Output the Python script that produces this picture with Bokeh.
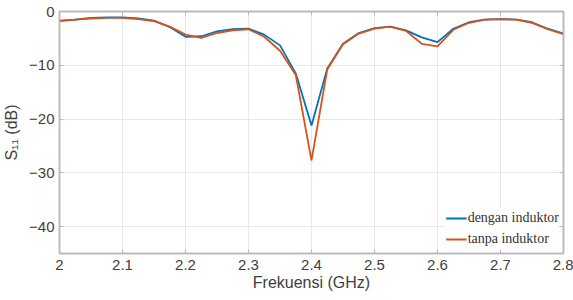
from bokeh.plotting import figure
from bokeh.models import Range1d, LinearAxis, FixedTicker, Legend, LegendItem, CustomJSTickFormatter
from bokeh.embed import file_html
from bokeh.resources import INLINE

freq = [2.000, 2.025, 2.050, 2.075, 2.100, 2.125, 2.150, 2.175, 2.200, 2.225, 2.250,
        2.275, 2.300, 2.325, 2.350, 2.375, 2.400, 2.425, 2.450, 2.475, 2.500, 2.525,
        2.550, 2.575, 2.600, 2.625, 2.650, 2.675, 2.700, 2.725, 2.750, 2.775, 2.800]
dengan = [-1.7, -1.5, -1.2, -1.1, -1.1, -1.3, -1.7, -2.9, -4.7, -4.6, -3.7,
          -3.3, -3.2, -4.3, -6.3, -11.5, -21.2, -10.6, -6.0, -4.0, -3.1, -2.8,
          -3.5, -4.8, -5.7, -3.2, -2.0, -1.5, -1.4, -1.5, -2.0, -3.2, -4.1]
tanpa = [-1.8, -1.5, -1.3, -1.2, -1.2, -1.4, -1.8, -2.8, -4.3, -4.9, -4.0,
         -3.5, -3.3, -4.7, -7.3, -11.8, -27.7, -10.8, -6.1, -4.1, -3.2, -2.8,
         -3.6, -6.0, -6.5, -3.4, -2.1, -1.5, -1.4, -1.5, -2.1, -3.3, -4.2]
x_ticks = [2.0, 2.1, 2.2, 2.3, 2.4, 2.5, 2.6, 2.7, 2.8]
x_labels = {2.0: "2", 2.1: "2.1", 2.2: "2.2", 2.3: "2.3", 2.4: "2.4",
            2.5: "2.5", 2.6: "2.6", 2.7: "2.7", 2.8: "2.8"}
y_ticks = [-40, -30, -20, -10, 0]

frame_col = "#b8b8b8"
text_col = "#404040"

p = figure(width=573, height=300, output_backend="svg", toolbar_location=None,
           x_range=Range1d(2.0, 2.8), y_range=Range1d(-45, 0),
           min_border_left=59, min_border_right=10, min_border_top=11, min_border_bottom=47)
p.outline_line_color = frame_col
p.outline_line_width = 1.5
p.background_fill_color = "white"
p.border_fill_color = "white"

for ax in (p.xaxis[0], p.yaxis[0]):
    ax.axis_line_color = frame_col
    ax.axis_line_width = 1.5
    ax.major_tick_in = 4
    ax.major_tick_out = 0
    ax.minor_tick_line_color = None
    ax.major_tick_line_color = frame_col
    ax.major_label_text_font = "Liberation Sans"
    ax.major_label_text_font_size = "15px"
    ax.major_label_text_color = text_col
    ax.axis_label_text_font = "Liberation Sans"
    ax.axis_label_text_font_size = "16px"
    ax.axis_label_text_font_style = "normal"
    ax.axis_label_text_color = text_col

p.xaxis.ticker = FixedTicker(ticks=x_ticks)
p.xaxis.major_label_overrides = x_labels
p.yaxis.ticker = FixedTicker(ticks=y_ticks)
p.xaxis.axis_label = "Frekuensi (GHz)"
p.yaxis.axis_label = "S\u2081\u2081 (dB)"
p.xaxis.major_label_standoff = 6
p.yaxis.major_label_standoff = 5
p.xaxis.axis_label_standoff = 1
p.yaxis.axis_label_standoff = 6

blank = CustomJSTickFormatter(code="return ''")
for loc, tk in (("above", x_ticks), ("right", y_ticks)):
    ax = LinearAxis(ticker=FixedTicker(ticks=tk), formatter=blank,
                    major_label_standoff=0,
                    axis_line_color=frame_col, axis_line_width=1.5,
                    major_tick_in=4, major_tick_out=0, major_tick_line_color=frame_col,
                    minor_tick_line_color=None)
    p.add_layout(ax, loc)

p.xgrid.ticker = FixedTicker(ticks=x_ticks)
p.ygrid.ticker = FixedTicker(ticks=y_ticks)
p.grid.grid_line_color = "#e8e8e8"
p.grid.grid_line_width = 1

r1 = p.line(freq, dengan, line_color="#0072BD", line_width=1.8)
r2 = p.line(freq, tanpa, line_color="#D95319", line_width=1.8)

legend = Legend(items=[LegendItem(label="dengan induktor", renderers=[r1]),
                       LegendItem(label="tanpa induktor", renderers=[r2])],
                location="bottom_right")
legend.label_text_font = "Times New Roman"
legend.label_text_font_size = "14px"
legend.label_text_color = "#333333"
legend.border_line_color = None
legend.background_fill_color = "white"
legend.background_fill_alpha = 1.0
legend.glyph_width = 21
legend.label_standoff = 1
legend.spacing = 1
legend.padding = 2
legend.margin = 4
legend.label_height = 19
p.add_layout(legend, "center")

open("out.html", "w").write(file_html(p, INLINE))
